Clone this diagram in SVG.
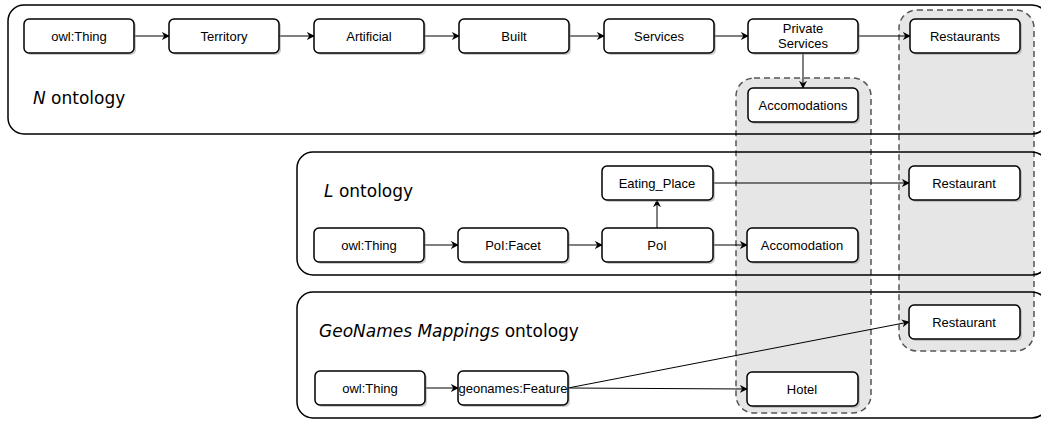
<svg xmlns="http://www.w3.org/2000/svg" width="1041" height="421" viewBox="0 0 1041 421">
<style>
.cont{fill:none;stroke:#000;stroke-width:1.5}
.grp{fill:#e6e6e6;stroke:#555;stroke-width:1.5;stroke-dasharray:6 4}
.node rect.b{fill:#fff;stroke:#000;stroke-width:1.5}
.node rect.s{fill:#999;opacity:0.5}
.node text{font-family:"Liberation Sans",Arial,sans-serif;font-size:13px;fill:#000;text-anchor:middle}
.lbl{font-family:"DejaVu Sans",Verdana,sans-serif;font-size:17px;fill:#000}
.conn path{fill:none;stroke:#000;stroke-width:1;marker-end:url(#arr)}
</style>
<defs>
<marker id="arr" viewBox="0 0 10 10" refX="9" refY="5" markerWidth="8" markerHeight="8" orient="auto" markerUnits="userSpaceOnUse">
<path d="M0,0 L10,5 L0,10 L3,5 Z" fill="#000"/>
</marker>
</defs>
<rect width="1041" height="421" fill="#fff"/>
<g id="groups">
<rect id="grp-accom" class="grp" x="736" y="78" width="135" height="335" rx="18"/>
<rect id="grp-rest" class="grp" x="899" y="10" width="135" height="341" rx="18"/>
</g>
<g id="containers">
<g id="n-ontology"><rect class="cont" x="8" y="5" width="1040" height="129" rx="16"/><text class="lbl" x="33" y="104"><tspan font-style="italic">N</tspan> ontology</text></g>
<g id="l-ontology"><rect class="cont" x="297" y="152" width="751" height="123" rx="16"/><text class="lbl" x="324" y="197"><tspan font-style="italic">L</tspan> ontology</text></g>
<g id="g-ontology"><rect class="cont" x="297" y="292" width="751" height="126" rx="16"/><text class="lbl" x="319" y="337"><tspan font-style="italic">GeoNames Mappings</tspan> ontology</text></g>
</g>
<g id="connectors" class="conn">
<path d="M134,36 H169"/>
<path d="M279,36 H314"/>
<path d="M424,36 H459"/>
<path d="M569,36 H604"/>
<path d="M714,36 H748"/>
<path d="M858,36 H910"/>
<path d="M803,53 V88"/>
<path d="M423,245 H458"/>
<path d="M568,245 H602"/>
<path d="M713,245 H747"/>
<path d="M657,228 V200"/>
<path d="M713,183 H909"/>
<path d="M424,388 H458"/>
<path d="M568,388 L747,389"/>
<path d="M568,388 L909,322"/>
</g>
<g id="nodes">
<g id="n-thing" class="node"><rect class="s" x="26" y="21" width="110" height="34" rx="5"/><rect class="b" x="24" y="19" width="110" height="34" rx="5"/><text x="79" y="41">owl:Thing</text></g>
<g id="n-territory" class="node"><rect class="s" x="171" y="21" width="110" height="34" rx="5"/><rect class="b" x="169" y="19" width="110" height="34" rx="5"/><text x="224" y="41">Territory</text></g>
<g id="n-artificial" class="node"><rect class="s" x="316" y="21" width="110" height="34" rx="5"/><rect class="b" x="314" y="19" width="110" height="34" rx="5"/><text x="369" y="41">Artificial</text></g>
<g id="n-built" class="node"><rect class="s" x="461" y="21" width="110" height="34" rx="5"/><rect class="b" x="459" y="19" width="110" height="34" rx="5"/><text x="514" y="41">Built</text></g>
<g id="n-services" class="node"><rect class="s" x="606" y="21" width="110" height="34" rx="5"/><rect class="b" x="604" y="19" width="110" height="34" rx="5"/><text x="659" y="41">Services</text></g>
<g id="n-private" class="node"><rect class="s" x="750" y="21" width="110" height="34" rx="5"/><rect class="b" x="748" y="19" width="110" height="34" rx="5"/><text x="803" y="33">Private</text><text x="803" y="48">Services</text></g>
<g id="n-restaurants" class="node"><rect class="s" x="912" y="21" width="110" height="34" rx="5"/><rect class="b" x="910" y="19" width="110" height="34" rx="5"/><text x="965" y="41">Restaurants</text></g>
<g id="n-accomodations" class="node"><rect class="s" x="750" y="90" width="110" height="34" rx="5"/><rect class="b" x="748" y="88" width="110" height="34" rx="5"/><text x="803" y="110">Accomodations</text></g>
<g id="l-thing" class="node"><rect class="s" x="316" y="230" width="110" height="34" rx="5"/><rect class="b" x="314" y="228" width="110" height="34" rx="5"/><text x="369" y="250">owl:Thing</text></g>
<g id="l-facet" class="node"><rect class="s" x="460" y="230" width="110" height="34" rx="5"/><rect class="b" x="458" y="228" width="110" height="34" rx="5"/><text x="513" y="250">PoI:Facet</text></g>
<g id="l-poi" class="node"><rect class="s" x="604" y="230" width="111" height="34" rx="5"/><rect class="b" x="602" y="228" width="111" height="34" rx="5"/><text x="657" y="250">PoI</text></g>
<g id="l-accomodation" class="node"><rect class="s" x="749" y="230" width="111" height="34" rx="5"/><rect class="b" x="747" y="228" width="111" height="34" rx="5"/><text x="802" y="250">Accomodation</text></g>
<g id="l-eating" class="node"><rect class="s" x="604" y="168" width="111" height="34" rx="5"/><rect class="b" x="602" y="166" width="111" height="34" rx="5"/><text x="657" y="188">Eating_Place</text></g>
<g id="l-restaurant" class="node"><rect class="s" x="911" y="168" width="111" height="34" rx="5"/><rect class="b" x="909" y="166" width="111" height="34" rx="5"/><text x="964" y="188">Restaurant</text></g>
<g id="g-thing" class="node"><rect class="s" x="317" y="373" width="110" height="34" rx="5"/><rect class="b" x="315" y="371" width="110" height="34" rx="5"/><text x="370" y="393">owl:Thing</text></g>
<g id="g-feature" class="node"><rect class="s" x="460" y="373" width="110" height="34" rx="5"/><rect class="b" x="458" y="371" width="110" height="34" rx="5"/><text x="513" y="393">geonames:Feature</text></g>
<g id="g-hotel" class="node"><rect class="s" x="749" y="374" width="111" height="34" rx="5"/><rect class="b" x="747" y="372" width="111" height="34" rx="5"/><text x="802" y="394">Hotel</text></g>
<g id="g-restaurant" class="node"><rect class="s" x="911" y="307" width="111" height="34" rx="5"/><rect class="b" x="909" y="305" width="111" height="34" rx="5"/><text x="964" y="327">Restaurant</text></g>
</g>
</svg>
